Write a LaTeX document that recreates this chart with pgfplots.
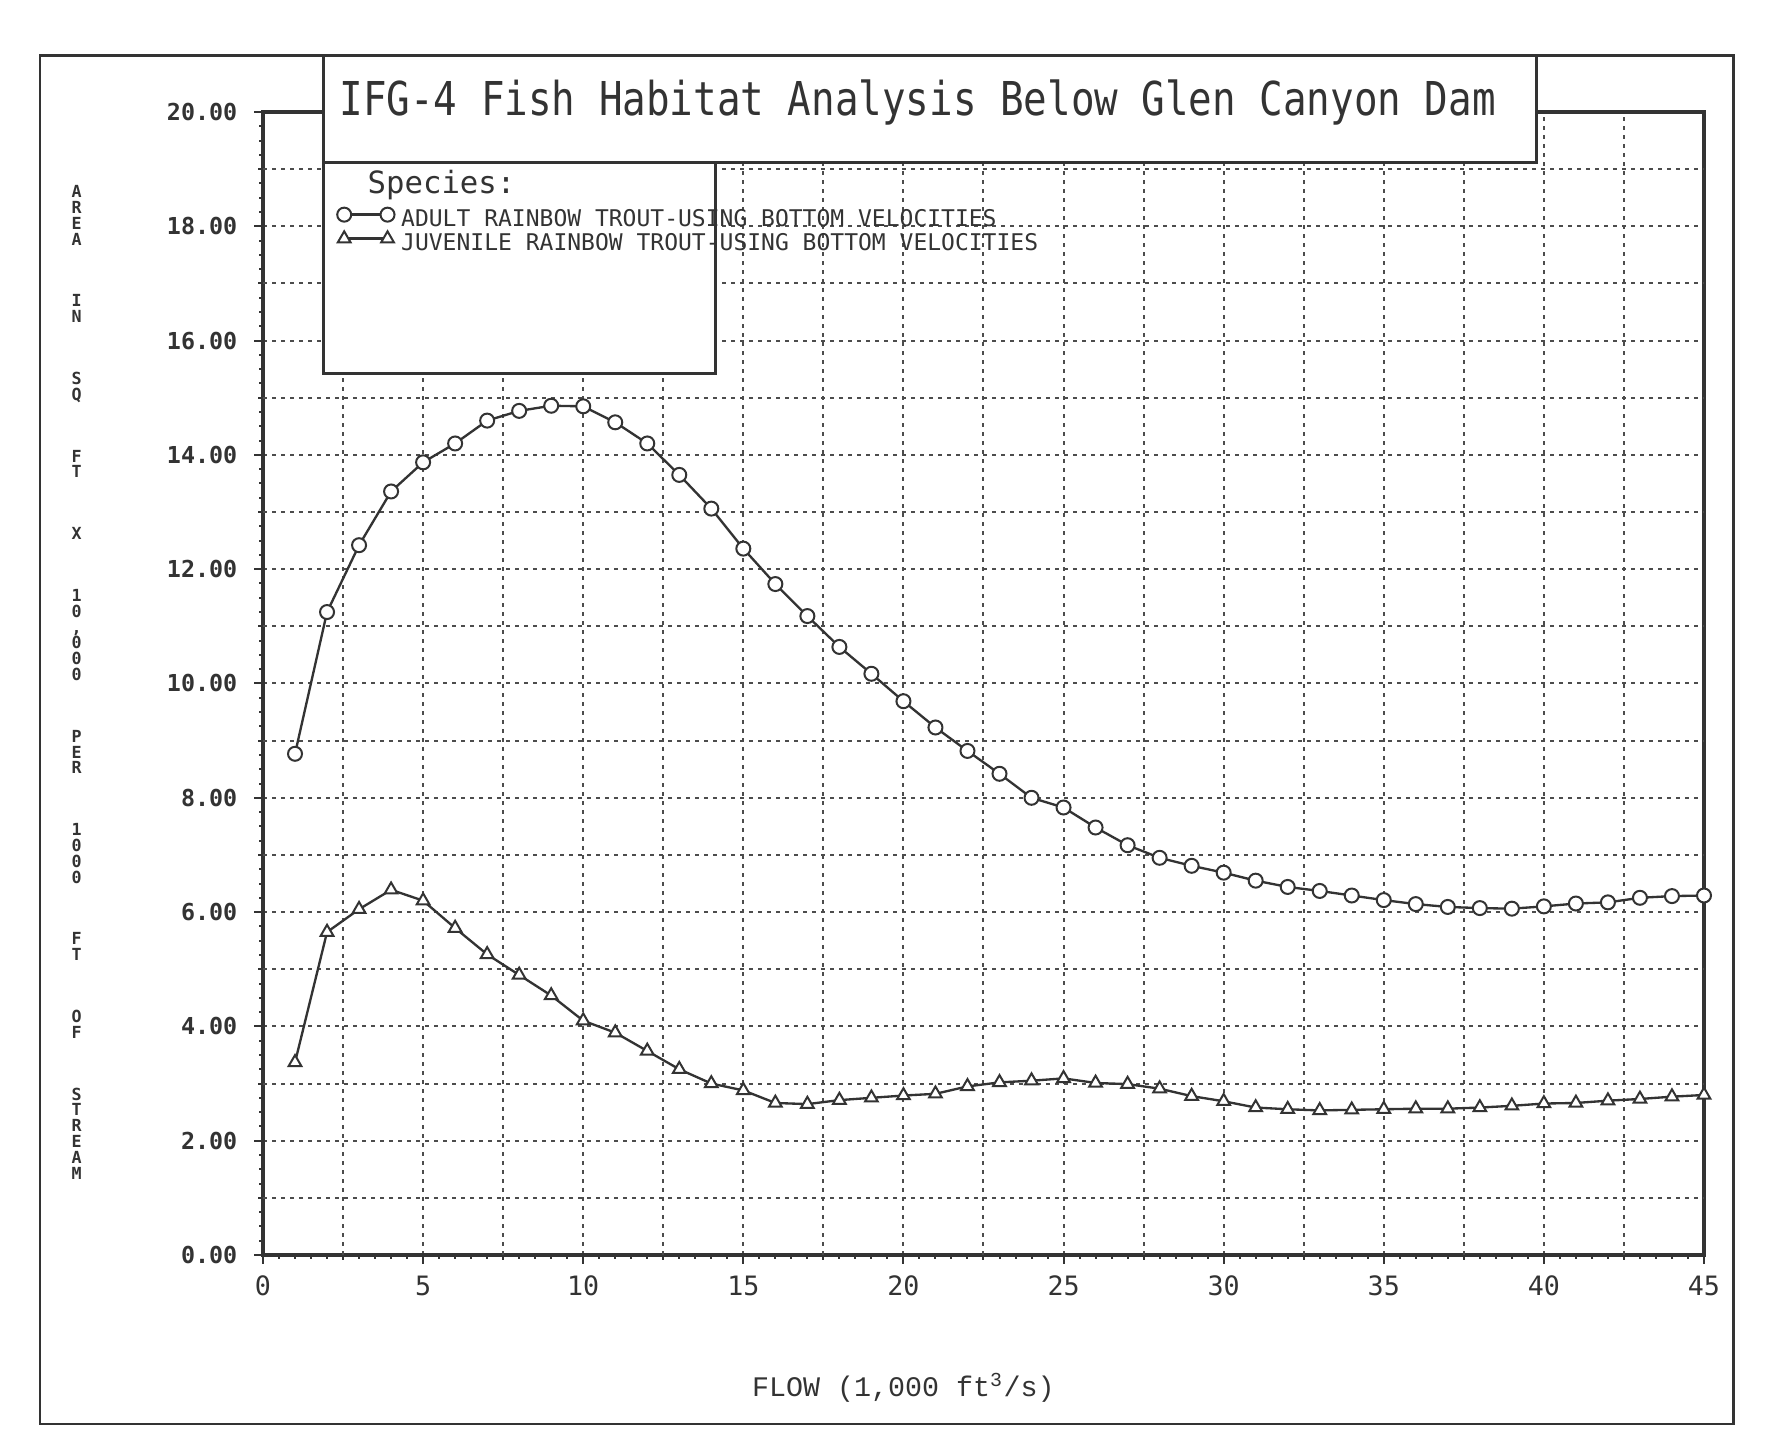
\documentclass[border=0pt]{standalone}
\usepackage{fontspec}
\usepackage{graphicx}
\usepackage{pgfplots}
\pgfplotsset{compat=1.18}
\newfontfamily\dotfont{DejaVu Sans Mono}
\newfontfamily\typefont{Liberation Mono}
\definecolor{ink}{gray}{0.2}
\definecolor{gridc}{gray}{0.3}

\begin{document}
\begin{tikzpicture}
\path[use as bounding box] (0,0) rectangle (531.3pt,428.7pt);
\fill[white] (0,0) rectangle (531.3pt,428.7pt);
\draw[ink, line width=0.8pt] (12pt,1.5pt) rectangle (520pt,412pt);
\begin{axis}[
  at={(78.9pt,52.2pt)}, anchor=south west,
  scale only axis, width=432.3pt, height=342.9pt,
  xmin=0, xmax=45, ymin=0, ymax=20,
  clip=false,
  axis line style={ink, line width=1pt},
  xtick={0,5,...,45},
  xticklabels={0,5,10,15,20,25,30,35,40,45},
  ytick={0,2,...,20},
  yticklabels={0.00,2.00,4.00,6.00,8.00,10.00,12.00,14.00,16.00,18.00,20.00},
  extra x ticks={2.5,7.5,...,42.5},
  extra x tick labels={},
  extra y ticks={1,3,...,19},
  extra y tick labels={},
  extra tick style={grid=major, major tick length=1.5pt},
  minor x tick num=9,
  minor y tick num=7,
  tick align=outside,
  xtick pos=bottom, ytick pos=left,
  major tick length=2.7pt, minor tick length=1.2pt,
  tick style={ink, line width=0.6pt},
  grid=major,
  major grid style={gridc, line width=0.6pt, dash pattern=on 1.1pt off 1.6pt},
  yticklabel style={font=\dotfont\bfseries\fontsize{7}{7}\selectfont, text=ink, xshift=-1.5pt},
  xticklabel style={font=\dotfont\fontsize{8}{8}\selectfont, text=ink},
  legend style={at={(axis description cs:0.0515,0.9163)}, anchor=north west,
    draw=none, fill=none, inner sep=0pt, outer sep=0pt, row sep=0pt, column sep=1.5pt,
    font=\dotfont\fontsize{6.9}{6.9}\selectfont, text=ink,
    nodes={inner sep=0.5pt, text height=4pt, text depth=1pt}},
  legend cell align=left,
  legend image code/.code={\draw[#1, yshift=2pt] plot coordinates {(0pt,0pt) (13pt,0pt)};},
]
\draw[ink, line width=0.9pt, fill=white] (axis description cs:0.0419,0.7708) rectangle (axis description cs:0.3137,0.9560);
\draw[ink, line width=0.9pt, fill=white] (axis description cs:0.0419,0.9560) rectangle (axis description cs:0.8839,1.0493);

\addplot[ink, line width=0.7pt, mark=*, mark size=2.1pt, mark options={fill=white, draw=ink, line width=0.6pt}] coordinates {
(1,8.77) (2,11.25) (3,12.42) (4,13.36) (5,13.87) (6,14.2) (7,14.6) (8,14.77) (9,14.86) (10,14.85)
(11,14.57) (12,14.2) (13,13.65) (14,13.06) (15,12.36) (16,11.74) (17,11.18) (18,10.64) (19,10.17) (20,9.69)
(21,9.23) (22,8.82) (23,8.42) (24,8.0) (25,7.83) (26,7.48) (27,7.17) (28,6.95) (29,6.81) (30,6.69)
(31,6.55) (32,6.44) (33,6.37) (34,6.29) (35,6.21) (36,6.14) (37,6.09) (38,6.07) (39,6.06) (40,6.10)
(41,6.15) (42,6.17) (43,6.25) (44,6.28) (45,6.29)
};
\addlegendentry{ADULT RAINBOW TROUT-USING BOTTOM VELOCITIES}
\addplot[ink, line width=0.7pt, mark=triangle*, mark size=2.2pt, mark options={fill=white, draw=ink, line width=0.6pt}] coordinates {
(1,3.37) (2,5.65) (3,6.05) (4,6.39) (5,6.2) (6,5.72) (7,5.26) (8,4.9) (9,4.54) (10,4.1)
(11,3.89) (12,3.57) (13,3.25) (14,3.0) (15,2.88) (16,2.66) (17,2.64) (18,2.71) (19,2.75) (20,2.79)
(21,2.82) (22,2.95) (23,3.02) (24,3.05) (25,3.09) (26,3.01) (27,2.99) (28,2.91) (29,2.78) (30,2.69)
(31,2.58) (32,2.55) (33,2.53) (34,2.54) (35,2.55) (36,2.56) (37,2.56) (38,2.58) (39,2.61) (40,2.65)
(41,2.66) (42,2.70) (43,2.73) (44,2.77) (45,2.80)
};
\addlegendentry{JUVENILE RAINBOW TROUT-USING BOTTOM VELOCITIES}
\end{axis}

\node[anchor=base, text=ink, font=\dotfont\fontsize{14}{14}\selectfont, inner sep=0pt] at (275.3pt,394pt)
  {\scalebox{0.84}[1]{IFG-4 Fish Habitat Analysis Below Glen Canyon Dam}};
\node[anchor=base west, text=ink, font=\dotfont\fontsize{9.2}{9.2}\selectfont, inner sep=0pt] at (110.1pt,370.5pt) {Species:};
\node[text=ink, font=\typefont\fontsize{8.5}{8.5}\selectfont] at (271pt,12.3pt) {FLOW (1,000 ft\textsuperscript{3}/s)};
\node[align=center, text=ink, inner sep=0pt, font=\dotfont\bfseries\fontsize{5}{4.74}\selectfont] at (23pt,224pt)
  {A\\R\\E\\A\\[13.8pt]I\\N\\[13.8pt]S\\Q\\[13.8pt]F\\T\\[13.8pt]X\\[13.8pt]1\\0\\,\\0\\0\\0\\[13.8pt]P\\E\\R\\[13.8pt]1\\0\\0\\0\\[13.8pt]F\\T\\[13.8pt]O\\F\\[13.8pt]S\\T\\R\\E\\A\\M};
\end{tikzpicture}
\end{document}
